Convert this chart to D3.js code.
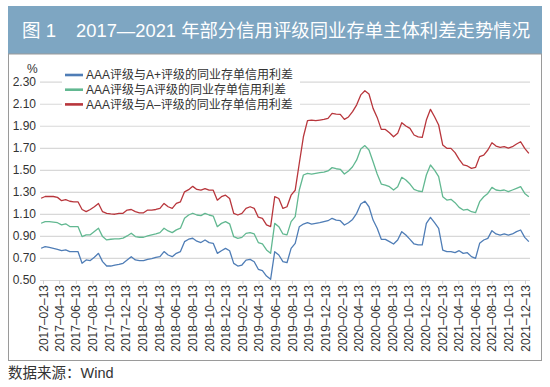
<!DOCTYPE html>
<html>
<head>
<meta charset="utf-8">
<script src="https://cdn.jsdelivr.net/npm/d3@7"></script>
<style>
  body { margin: 0; background: #fff; }
  text { font-family: "Liberation Sans", "Noto Sans CJK SC", sans-serif; }
</style>
</head>
<body>
<svg id="chart" width="550" height="387"></svg>
<script>
// sample dates: one value every 15 days from startDate
const startDate = '2017-02-06';
const stepDays = 15;

const tickLabels = [
  '2017-02-13', '2017-04-13', '2017-06-13', '2017-08-13', '2017-10-13', '2017-12-13',
  '2018-02-13', '2018-04-13', '2018-06-13', '2018-08-13', '2018-10-13', '2018-12-13',
  '2019-02-13', '2019-04-13', '2019-06-13', '2019-08-13', '2019-10-13', '2019-12-13',
  '2020-02-13', '2020-04-13', '2020-06-13', '2020-08-13', '2020-10-13', '2020-12-13',
  '2021-02-13', '2021-04-13', '2021-06-13', '2021-08-13', '2021-10-13', '2021-12-13',
];
const yTicks = [0.5, 0.7, 0.9, 1.1, 1.3, 1.5, 1.7, 1.9, 2.1, 2.3];

const seriesNames = [
  'AAA评级与A+评级的同业存单信用利差',
  'AAA评级与A评级的同业存单信用利差',
  'AAA评级与A–评级的同业存单信用利差',
];

const aPlusSpread = [
  0.788, 0.803, 0.797, 0.788, 0.779, 0.767, 0.773, 0.758, 0.758, 0.758,
  0.652, 0.682, 0.676, 0.706, 0.742, 0.667, 0.627, 0.627, 0.636, 0.642,
  0.652, 0.682, 0.712, 0.682, 0.676, 0.676, 0.688, 0.694, 0.706, 0.712,
  0.758, 0.727, 0.712, 0.742, 0.758, 0.848, 0.870, 0.879, 0.852, 0.840,
  0.863, 0.839, 0.833, 0.742, 0.766, 0.787, 0.766, 0.651, 0.627, 0.636,
  0.681, 0.687, 0.666, 0.597, 0.585, 0.536, 0.506, 0.757, 0.727, 0.666,
  0.657, 0.787, 0.833, 0.984, 1.008, 1.020, 1.008, 1.014, 1.020, 1.030,
  1.038, 1.060, 1.044, 1.038, 0.999, 1.020, 1.050, 1.105, 1.190, 1.215,
  1.165, 1.044, 0.969, 0.869, 0.869, 0.848, 0.827, 0.863, 0.939, 0.908,
  0.869, 0.827, 0.818, 0.818, 1.014, 1.069, 1.020, 0.969, 0.772, 0.757,
  0.757, 0.748, 0.766, 0.742, 0.748, 0.712, 0.697, 0.833, 0.863, 0.878,
  0.948, 0.918, 0.908, 0.918, 0.908, 0.918, 0.939, 0.954, 0.887, 0.848,
];

const aSpread = [
  1.015, 1.030, 1.030, 1.025, 1.020, 1.000, 1.010, 0.985, 0.985, 0.985,
  0.894, 0.910, 0.910, 0.940, 0.970, 0.894, 0.864, 0.870, 0.873, 0.873,
  0.880, 0.900, 0.924, 0.894, 0.888, 0.888, 0.900, 0.910, 0.918, 0.930,
  0.970, 0.945, 0.930, 0.955, 0.970, 1.060, 1.090, 1.106, 1.090, 1.085,
  1.105, 1.090, 1.080, 0.984, 1.014, 1.030, 1.010, 0.893, 0.878, 0.887,
  0.923, 0.930, 0.918, 0.840, 0.827, 0.773, 0.742, 1.014, 0.984, 0.918,
  0.910, 1.030, 1.075, 1.317, 1.453, 1.468, 1.462, 1.468, 1.474, 1.480,
  1.490, 1.520, 1.510, 1.505, 1.462, 1.490, 1.528, 1.590, 1.690, 1.720,
  1.680, 1.574, 1.462, 1.371, 1.362, 1.347, 1.317, 1.347, 1.432, 1.407,
  1.371, 1.323, 1.308, 1.302, 1.453, 1.544, 1.498, 1.438, 1.256, 1.226,
  1.232, 1.202, 1.159, 1.135, 1.141, 1.120, 1.111, 1.211, 1.256, 1.286,
  1.341, 1.317, 1.311, 1.317, 1.302, 1.317, 1.332, 1.347, 1.286, 1.256,
];

const aMinusSpread = [
  1.242, 1.258, 1.258, 1.258, 1.250, 1.220, 1.230, 1.215, 1.210, 1.210,
  1.140, 1.120, 1.140, 1.165, 1.195, 1.120, 1.105, 1.100, 1.097, 1.105,
  1.105, 1.135, 1.140, 1.120, 1.110, 1.110, 1.135, 1.135, 1.140, 1.150,
  1.195, 1.165, 1.150, 1.195, 1.210, 1.300, 1.320, 1.350, 1.322, 1.315,
  1.330, 1.315, 1.315, 1.225, 1.256, 1.270, 1.240, 1.105, 1.090, 1.105,
  1.150, 1.165, 1.150, 1.070, 1.060, 1.000, 0.985, 1.256, 1.240, 1.150,
  1.165, 1.270, 1.315, 1.560, 1.800, 1.946, 1.952, 1.946, 1.952, 1.958,
  1.967, 2.012, 2.006, 2.003, 1.958, 1.980, 2.028, 2.090, 2.180, 2.218,
  2.188, 2.058, 1.976, 1.867, 1.867, 1.837, 1.800, 1.831, 1.928, 1.898,
  1.876, 1.816, 1.800, 1.795, 1.952, 2.049, 1.982, 1.907, 1.725, 1.695,
  1.695, 1.656, 1.595, 1.544, 1.535, 1.513, 1.522, 1.620, 1.634, 1.680,
  1.746, 1.716, 1.704, 1.710, 1.698, 1.710, 1.734, 1.755, 1.695, 1.650,
];

const colors = ['#4f7db6', '#62b891', '#b8363c'];

const parse = d3.timeParse('%Y-%m-%d');
const t0 = parse(startDate);
const dates = aPlusSpread.map((v, i) => d3.timeDay.offset(t0, i * stepDays));
const tickDates = tickLabels.map(parse);

const svg = d3.select('#chart');
svg.append('rect').attr('width', 550).attr('height', 387).attr('fill', '#fff');

// title bar
svg.append('rect')
  .attr('x', 8).attr('y', 6).attr('width', 534).attr('height', 48)
  .attr('fill', '#7ea6c2');
svg.append('text')
  .attr('x', 22).attr('y', 37)
  .attr('fill', '#fff').style('font-size', '18.5px')
  .text('图 1');
svg.append('text')
  .attr('x', 76).attr('y', 37)
  .attr('fill', '#fff').style('font-size', '18.5px')
  .attr('textLength', 454).attr('lengthAdjust', 'spacingAndGlyphs')
  .text('2017—2021 年部分信用评级同业存单主体利差走势情况');

// frame
svg.append('rect')
  .attr('x', 8.5).attr('y', 54).attr('width', 533).attr('height', 306.5)
  .attr('fill', 'none').attr('stroke', '#9a9a9a').attr('stroke-width', 1);

const x = d3.scaleTime()
  .domain([tickDates[0], tickDates[tickDates.length - 1]])
  .range([43, 525]);
const y = d3.scaleLinear().domain([0.5, 2.3]).range([280, 81.7]);

const yAxis = d3.axisLeft(y)
  .tickValues(yTicks)
  .tickSize(-490)
  .tickPadding(4)
  .tickFormat(d3.format('.2f'));
const gy = svg.append('g').attr('transform', 'translate(40,0)').call(yAxis);
gy.select('.domain').remove();
gy.selectAll('line').attr('stroke', '#d8d8d8').attr('stroke-width', 1.2);
gy.selectAll('text').attr('fill', '#333').style('font-size', '12px');

svg.append('text')
  .attr('x', 27).attr('y', 73)
  .attr('fill', '#333').style('font-size', '12px')
  .text('%');

const xAxis = d3.axisBottom(x)
  .tickValues(tickDates)
  .tickSize(4)
  .tickFormat(d3.timeFormat('%Y–%m–%d'));
const gx = svg.append('g').attr('transform', 'translate(0,280)').call(xAxis);
gx.select('.domain').remove();
gx.selectAll('line').attr('stroke', '#cfcfcf');
gx.selectAll('text')
  .attr('fill', '#333').style('font-size', '12px')
  .attr('x', -5).attr('y', 0).attr('dy', '0.35em')
  .attr('transform', 'rotate(-90)')
  .style('text-anchor', 'end');

// lines
const line = d3.line()
  .x((d, i) => x(dates[i]))
  .y(d => y(d));

[aPlusSpread, aSpread, aMinusSpread].forEach((values, k) => {
  svg.append('path')
    .datum(values)
    .attr('d', line)
    .attr('fill', 'none')
    .attr('stroke', colors[k])
    .attr('stroke-width', 1.3)
    .attr('stroke-linejoin', 'round');
});

// legend
svg.append('rect')
  .attr('x', 62).attr('y', 67).attr('width', 238).attr('height', 45)
  .attr('fill', '#fff');
const legend = svg.append('g');
seriesNames.forEach((name, k) => {
  const ly = 75 + k * 14.7;
  legend.append('line')
    .attr('x1', 65).attr('x2', 83).attr('y1', ly).attr('y2', ly)
    .attr('stroke', colors[k]).attr('stroke-width', 2.6);
  legend.append('text')
    .attr('x', 86).attr('y', ly + 4.3)
    .attr('fill', '#333').style('font-size', '12px')
    .text(name);
});

// source
svg.append('text')
  .attr('x', 8).attr('y', 378)
  .attr('fill', '#333').style('font-size', '14.5px')
  .text('数据来源：Wind');
</script>
</body>
</html>
